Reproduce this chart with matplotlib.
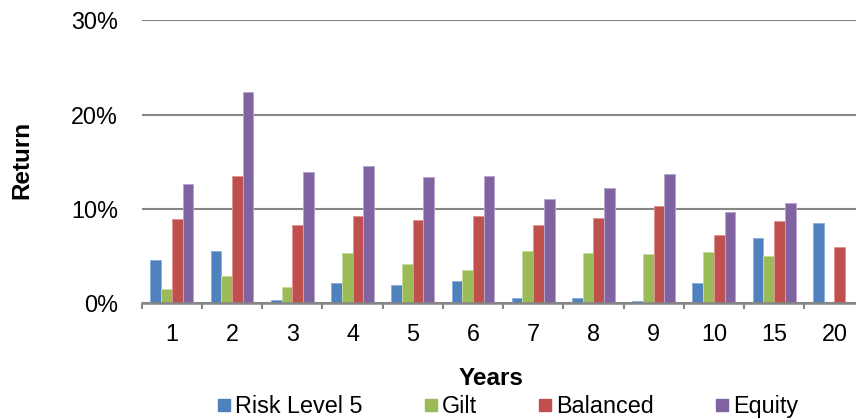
import numpy as np
import matplotlib
matplotlib.use("Agg")
import matplotlib.pyplot as plt
from matplotlib.lines import Line2D
from matplotlib.ticker import FuncFormatter

plt.rcParams['font.family'] = ['Liberation Sans', 'DejaVu Sans']

years = ["1", "2", "3", "4", "5", "6", "7", "8", "9", "10", "15", "20"]
risk_level_5 = [4.6, 5.5, 0.3, 2.2, 1.9, 2.4, 0.6, 0.6, 0.2, 2.1, 6.9, 8.5]
gilt = [1.5, 2.9, 1.7, 5.3, 4.2, 3.5, 5.5, 5.3, 5.2, 5.4, 5.0, np.nan]
balanced = [8.9, 13.5, 8.3, 9.3, 8.8, 9.3, 8.3, 9.0, 10.3, 7.2, 8.7, 6.0]
equity = [12.7, 22.4, 13.9, 14.6, 13.4, 13.5, 11.1, 12.2, 13.7, 9.7, 10.6, np.nan]

series = [
    ("Risk Level 5", risk_level_5, "#4F81BD", "#8FB0DA"),
    ("Gilt", gilt, "#9BBB59", "#C6DA9C"),
    ("Balanced", balanced, "#C0504D", "#DE9593"),
    ("Equity", equity, "#8064A2", "#B7A5CC"),
]

W, H = 856, 419
FS = 16.8

fig = plt.figure(figsize=(W / 100, H / 100), dpi=100)
ax = fig.add_axes([141.7 / W, (H - 303.3) / H, 722.8 / W, 282.9 / H])

x = np.arange(len(years))
bw = 0.178
for i, (name, vals, col, edge) in enumerate(series):
    offs = (i - 1.5) * bw
    ax.bar(x + offs, vals, width=bw, color=col, edgecolor=edge,
           linewidth=0.7, zorder=3, label=name)

ax.set_xlim(-0.5, len(years) - 0.5)
ax.set_ylim(0, 30)
ax.set_yticks([0, 10, 20, 30])
ax.yaxis.set_major_formatter(FuncFormatter(lambda v, p: f"{v:.0f}%"))
ax.grid(axis='y', color='#868686', linewidth=1.5, zorder=0)
ax.set_axisbelow(True)

for s in ["top", "right", "left"]:
    ax.spines[s].set_visible(False)
ax.spines["bottom"].set_color('#868686')
ax.spines["bottom"].set_linewidth(1.8)
ax.spines["bottom"].set_zorder(4)

ax.set_xticks(x)
ax.set_xticklabels(years)
ax.set_xticks(np.arange(len(years) + 1) - 0.5, minor=True)
ax.tick_params(axis='x', which='major', length=0, pad=14, labelsize=FS)
ax.tick_params(axis='x', which='minor', length=4.5, width=1.5, color='#868686')
ax.tick_params(axis='y', length=0, pad=17, labelsize=FS)

fig.text(22 / W, 1 - 160 / H, "Return", rotation=90, ha='center', va='center',
         fontsize=17.5, fontweight='bold')
fig.text(491 / W, 1 - 378 / H, "Years", ha='center', va='center',
         fontsize=17.5, fontweight='bold')

# legend entries placed one by one along the bottom row
legend_x = [217.3, 424.3, 538.3, 715.3]
fs_px = FS * 100 / 72
for (name, _, col, _), lx in zip(series, legend_x):
    h = Line2D([], [], marker='s', linestyle='none', markersize=9.1,
               markerfacecolor=col, markeredgecolor=col)
    leg = fig.legend([h], [name], loc='center left',
                     bbox_to_anchor=(lx / W, 1 - 406.5 / H), frameon=False,
                     fontsize=FS, handlelength=12.7 / fs_px,
                     handletextpad=5.0 / fs_px, borderpad=0, borderaxespad=0)

fig.savefig("out.png", dpi=100)
